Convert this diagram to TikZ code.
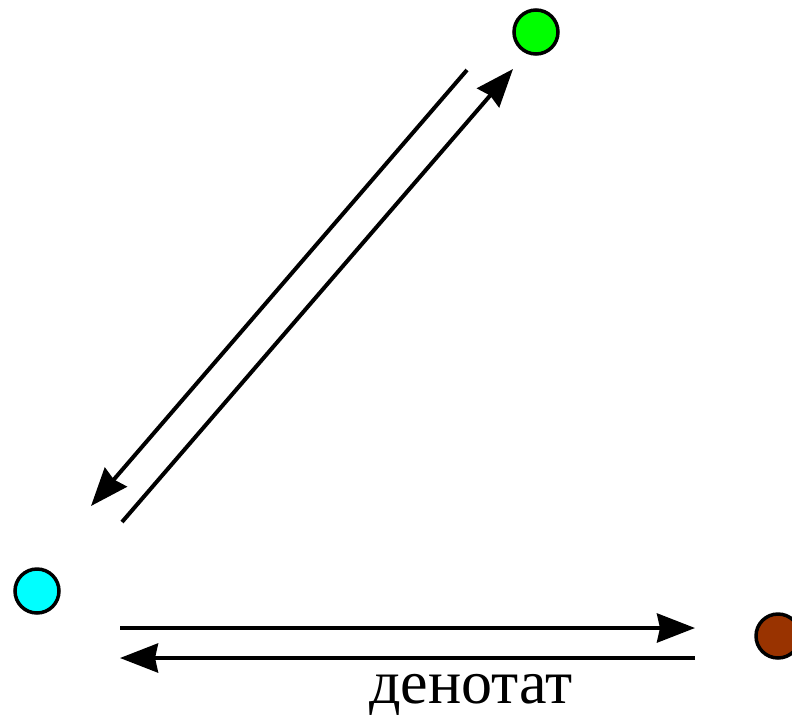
\documentclass[tikz,border=0pt]{standalone}
\usepackage{fontspec}
\setmainfont{Liberation Serif}
\usetikzlibrary{arrows.meta}
\definecolor{dotgreen}{HTML}{00FF00}
\definecolor{dotcyan}{HTML}{00FFFF}
\definecolor{dotbrown}{HTML}{993300}
\begin{document}
\begin{tikzpicture}[x=1pt,y=-1pt,
  dot/.style={circle,draw=black,line width=3.5pt,minimum size=44pt,inner sep=0pt},
  arr/.style={line width=4pt,-{Stealth[length=38pt,width=29pt,inset=3pt]}}]
\useasboundingbox (0,0) rectangle (792,716);
\node[dot,fill=dotgreen] (g) at (536,32) {};
\node[dot,fill=dotcyan] (c) at (37,591) {};
\node[dot,fill=dotbrown] (b) at (778,636) {};
\coordinate (d1s) at (467,70);
\coordinate (d1e) at (91,506);
\coordinate (d2s) at (122,522);
\coordinate (d2e) at (513,69);
\coordinate (h1s) at (120,628);
\coordinate (h1e) at (695,628);
\coordinate (h2s) at (695,658);
\coordinate (h2e) at (120,658);
\draw[arr] (d1s) -- (d1e);
\draw[arr] (d2s) -- (d2e);
\draw[arr] (h1s) -- (h1e);
\draw[arr] (h2s) -- (h2e);
\node[font=\fontsize{62}{66}\selectfont,anchor=base,inner sep=0pt] (t) at (471,703) {денотат};
\end{tikzpicture}
\end{document}
